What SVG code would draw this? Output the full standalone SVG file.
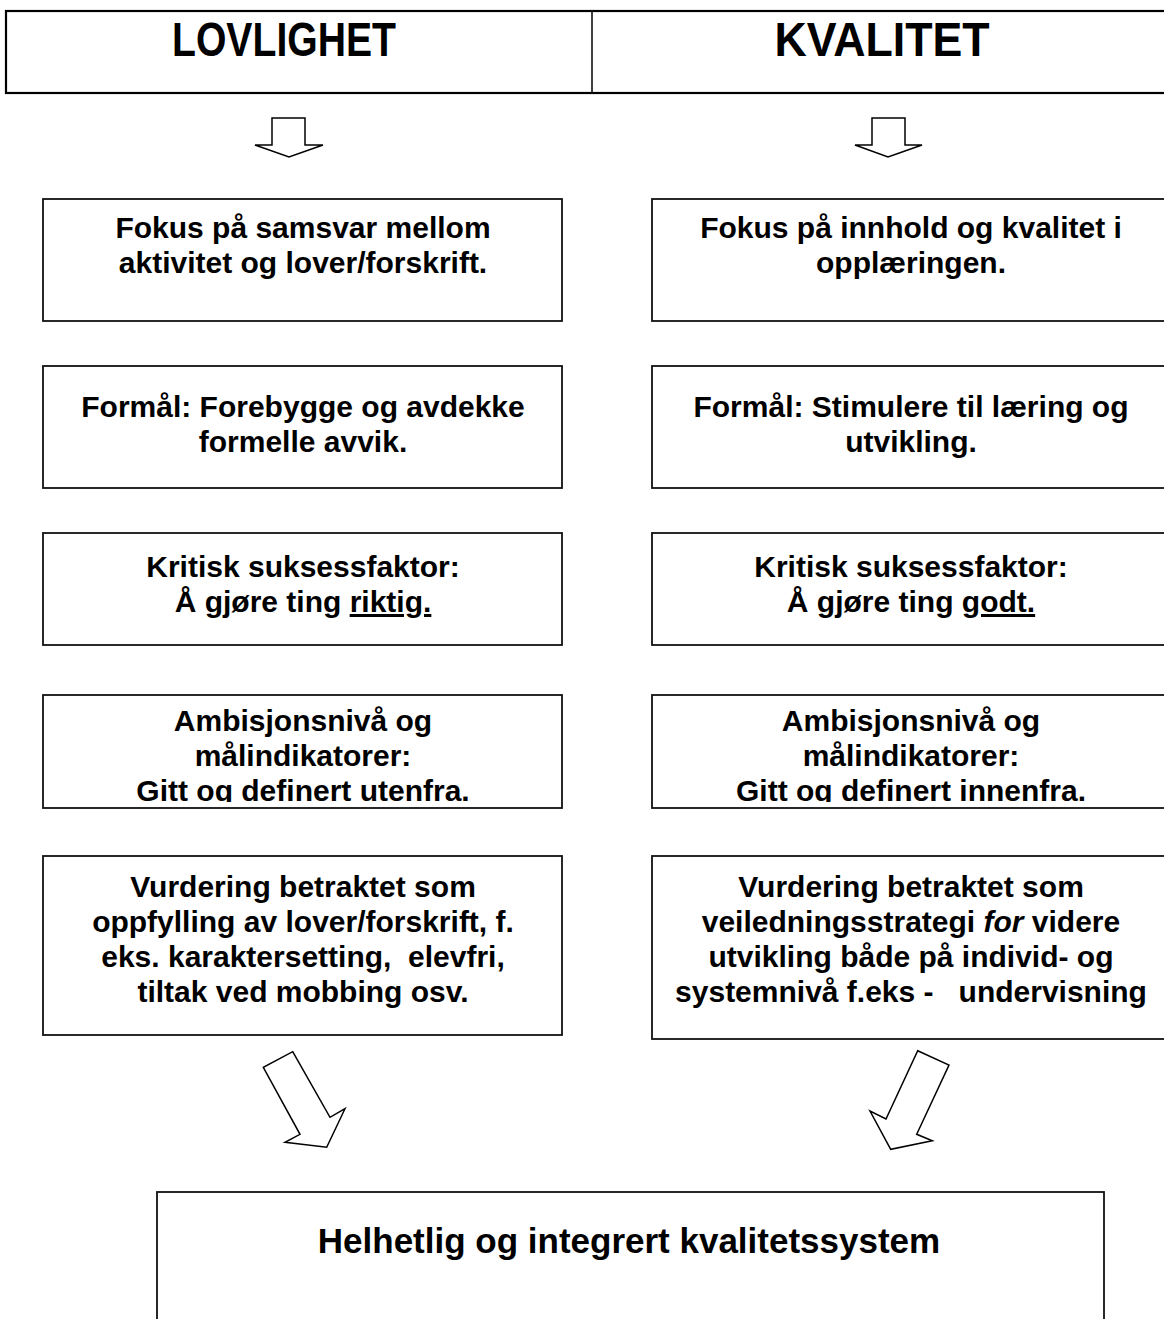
<svg xmlns="http://www.w3.org/2000/svg" width="1164" height="1319" viewBox="0 0 1164 1319">
<style>
.box{fill:#fff;stroke:#111;stroke-width:1.8}
.hdr{fill:#fff;stroke:#000;stroke-width:2.2}
.arr{fill:#fff;stroke:#000;stroke-width:1.5;stroke-linejoin:miter}
text{font-family:"Liberation Sans",Arial,sans-serif;font-weight:bold;fill:#000;text-anchor:middle}
.t{font-size:30px}
.h{font-size:48px}
.b{font-size:35px}
</style>
<defs>
<clipPath id="clipL4"><rect x="0" y="690" width="600" height="112"/></clipPath>
<clipPath id="clipR4"><rect x="600" y="690" width="600" height="112"/></clipPath>
</defs>
<rect width="1164" height="1319" fill="#fff"/>
<g id="header">
<rect class="hdr" x="6" y="11" width="1170" height="82"/>
<line x1="592" y1="11" x2="592" y2="93" stroke="#000" stroke-width="1.5"/>
<text class="h" x="284" y="56" textLength="224" lengthAdjust="spacingAndGlyphs">LOVLIGHET</text>
<text class="h" x="882" y="56" textLength="215" lengthAdjust="spacingAndGlyphs">KVALITET</text>
</g>
<g id="connectors">
<polygon class="arr" points="272,118 305,118 305,145 323,145 289,157 255,145 272,145"/>
<polygon class="arr" points="872,118 905,118 905,145 922,145 888,157 855,145 872,145"/>
<polygon class="arr" points="292.7,1051.7 330,1117.3 345,1108.7 326.7,1147.3 285,1142.3 300,1134.3 263.3,1067.3"/>
<polygon class="arr" points="917.7,1050.7 949,1065 916.7,1134.3 932.3,1140.7 890.7,1149.3 870,1111 886,1119"/>
</g>
<g id="l1">
<rect class="box" x="43" y="199" width="519" height="122"/>
<text class="t" x="303" y="238">Fokus på samsvar mellom</text>
<text class="t" x="303" y="273">aktivitet og lover/forskrift.</text>
</g>
<g id="r1">
<rect class="box" x="652" y="199" width="530" height="122"/>
<text class="t" x="911" y="238">Fokus på innhold og kvalitet i</text>
<text class="t" x="911" y="273">opplæringen.</text>
</g>
<g id="l2">
<rect class="box" x="43" y="366" width="519" height="122"/>
<text class="t" x="303" y="417">Formål: Forebygge og avdekke</text>
<text class="t" x="303" y="452">formelle avvik.</text>
</g>
<g id="r2">
<rect class="box" x="652" y="366" width="530" height="122"/>
<text class="t" x="911" y="417">Formål: Stimulere til læring og</text>
<text class="t" x="911" y="452">utvikling.</text>
</g>
<g id="l3">
<rect class="box" x="43" y="533" width="519" height="112"/>
<text class="t" x="303" y="577">Kritisk suksessfaktor:</text>
<text class="t" x="303" y="612">Å gjøre ting <tspan text-decoration="underline">riktig.</tspan></text>
</g>
<g id="r3">
<rect class="box" x="652" y="533" width="530" height="112"/>
<text class="t" x="911" y="577">Kritisk suksessfaktor:</text>
<text class="t" x="911" y="612">Å gjøre ting <tspan text-decoration="underline">godt.</tspan></text>
</g>
<g id="l4">
<rect class="box" x="43" y="695" width="519" height="113"/>
<g clip-path="url(#clipL4)">
<text class="t" x="303" y="731">Ambisjonsnivå og</text>
<text class="t" x="303" y="766">målindikatorer:</text>
<text class="t" x="303" y="801">Gitt og definert utenfra.</text>
</g>
</g>
<g id="r4">
<rect class="box" x="652" y="695" width="530" height="113"/>
<g clip-path="url(#clipR4)">
<text class="t" x="911" y="731">Ambisjonsnivå og</text>
<text class="t" x="911" y="766">målindikatorer:</text>
<text class="t" x="911" y="801">Gitt og definert innenfra.</text>
</g>
</g>
<g id="l5">
<rect class="box" x="43" y="856" width="519" height="179"/>
<text class="t" x="303" y="897">Vurdering betraktet som</text>
<text class="t" x="303" y="932">oppfylling av lover/forskrift, f.</text>
<text class="t" x="303" y="967" style="white-space:pre">eks. karaktersetting,  elevfri,</text>
<text class="t" x="303" y="1002">tiltak ved mobbing osv.</text>
</g>
<g id="r5">
<rect class="box" x="652" y="856" width="530" height="183"/>
<text class="t" x="911" y="897">Vurdering betraktet som</text>
<text class="t" x="911" y="932">veiledningsstrategi <tspan font-style="italic">for</tspan> videre</text>
<text class="t" x="911" y="967">utvikling både på individ- og</text>
<text class="t" x="911" y="1002" style="white-space:pre">systemnivå f.eks -   undervisning</text>
</g>
<g id="bottom">
<rect class="box" x="157" y="1192" width="947" height="160"/>
<text class="b" x="629" y="1253">Helhetlig og integrert kvalitetssystem</text>
</g>
</svg>
